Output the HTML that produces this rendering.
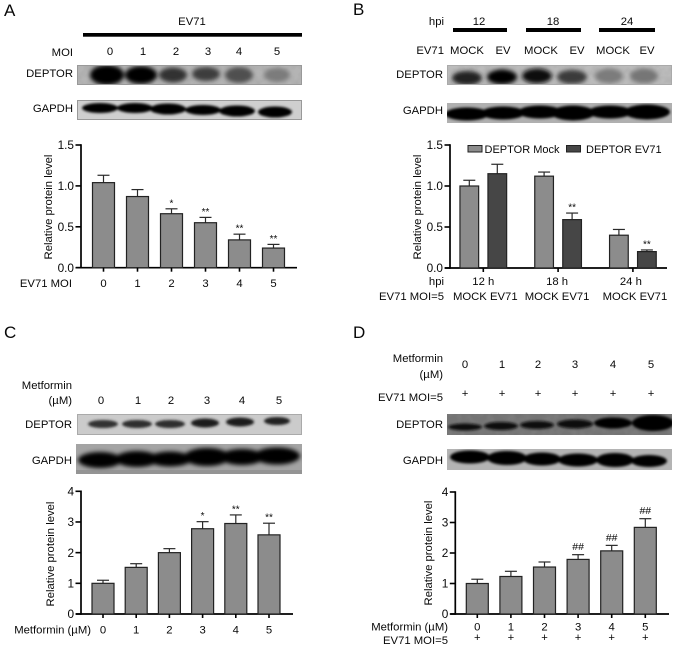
<!DOCTYPE html>
<html lang="en">
<head>
<meta charset="utf-8">
<title>DEPTOR western blots and quantification</title>
<style>
html,body{margin:0;padding:0;background:#fff;}
#figure{display:block;width:677px;height:649px;}
text{font-family:"Liberation Sans",Arial,sans-serif;font-size:11.3px;fill:#080808;}
.r{text-anchor:end;}
.m{text-anchor:middle;}
.p{font-size:17px;}
</style>
</head>
<body>
<svg id="figure" xmlns="http://www.w3.org/2000/svg" width="677" height="649" viewBox="0 0 677 649">
<defs>
<filter id="soft" x="-30%" y="-60%" width="160%" height="220%"><feGaussianBlur stdDeviation="1.3"/></filter>
<filter id="softer" x="-30%" y="-80%" width="160%" height="260%"><feGaussianBlur stdDeviation="2.2"/></filter>
<filter id="grain" x="0" y="0" width="100%" height="100%"><feTurbulence type="fractalNoise" baseFrequency="0.13" numOctaves="2" seed="7"/><feColorMatrix values="0 0 0 0 0.3  0 0 0 0 0.3  0 0 0 0 0.3  1.6 0 0 0 -0.55"/></filter>
</defs>

<!-- Panel A blots -->
<text class="p" x="4" y="16">A</text>
<text class="m" x="192" y="25">EV71</text>
<rect x="83" y="33" width="219" height="3.7" fill="#000"/>
<text class="r" x="73" y="56">MOI</text>
<text class="m" x="110" y="55">0</text>
<text class="m" x="143" y="55">1</text>
<text class="m" x="176" y="55">2</text>
<text class="m" x="208" y="55">3</text>
<text class="m" x="239" y="55">4</text>
<text class="m" x="277" y="55">5</text>
<text class="r" x="73" y="77">DEPTOR</text>
<text class="r" x="73" y="112">GAPDH</text>
<svg x="77" y="65" width="225" height="20" viewBox="77 65 225 20">
<rect x="77" y="65" width="225" height="20" fill="#b4b4b4"/>
<rect x="77" y="65" width="225" height="20" filter="url(#grain)" opacity=".35"/>
<g filter="url(#softer)">
<ellipse cx="107" cy="75" rx="17" ry="10" fill="#000"/>
<ellipse cx="141" cy="75" rx="16" ry="9" fill="#000"/>
<ellipse cx="173" cy="75" rx="14" ry="7.5" fill="#303030"/>
<ellipse cx="206" cy="74" rx="14" ry="7" fill="#3c3c3c"/>
<ellipse cx="239" cy="75" rx="14" ry="8" fill="#505050"/>
<ellipse cx="277" cy="75" rx="13" ry="7" fill="#7c7c7c"/>
</g>
<rect x="77.5" y="65.5" width="224" height="19" fill="none" stroke="#999"/>
</svg>
<svg x="77" y="100" width="225" height="20" viewBox="77 100 225 20">
<rect x="77" y="100" width="225" height="20" fill="#cfcfcf"/>
<g filter="url(#soft)">
<ellipse cx="100" cy="108" rx="18" ry="5" fill="#000"/>
<ellipse cx="135" cy="108" rx="18" ry="5" fill="#000"/>
<ellipse cx="168" cy="109" rx="18" ry="5.5" fill="#000"/>
<ellipse cx="203" cy="110" rx="18" ry="5" fill="#000"/>
<ellipse cx="237" cy="111" rx="18" ry="5.5" fill="#000"/>
<ellipse cx="275" cy="112" rx="17" ry="5.5" fill="#000"/>
</g>
<rect x="77.5" y="100.5" width="224" height="19" fill="none" stroke="#999"/>
</svg>

<!-- Panel B blots -->
<text class="p" x="353" y="15">B</text>
<text class="r" x="444" y="25">hpi</text>
<text class="m" x="479" y="25">12</text>
<text class="m" x="553" y="25">18</text>
<text class="m" x="627" y="25">24</text>
<rect x="453" y="28" width="54" height="4" fill="#000"/>
<rect x="526" y="28" width="55" height="4" fill="#000"/>
<rect x="599" y="28" width="56" height="4" fill="#000"/>
<text class="r" x="444" y="54">EV71</text>
<text class="m" x="467" y="54">MOCK</text>
<text class="m" x="503" y="54">EV</text>
<text class="m" x="541" y="54">MOCK</text>
<text class="m" x="577" y="54">EV</text>
<text class="m" x="613" y="54">MOCK</text>
<text class="m" x="647" y="54">EV</text>
<text class="r" x="443" y="78">DEPTOR</text>
<text class="r" x="443" y="114">GAPDH</text>
<svg x="447" y="65" width="225" height="20" viewBox="447 65 225 20">
<rect x="447" y="65" width="225" height="20" fill="#bcbcbc"/>
<rect x="447" y="65" width="225" height="20" filter="url(#grain)" opacity=".35"/>
<g filter="url(#softer)">
<ellipse cx="467" cy="78" rx="15" ry="7" fill="#202020"/>
<ellipse cx="502" cy="77" rx="15" ry="7.5" fill="#060606"/>
<ellipse cx="537" cy="76" rx="15" ry="7.5" fill="#111"/>
<ellipse cx="572" cy="77" rx="15" ry="7" fill="#3a3a3a"/>
<ellipse cx="609" cy="76" rx="14" ry="7.5" fill="#7c7c7c"/>
<ellipse cx="644" cy="76" rx="14" ry="7.5" fill="#767676"/>
</g>
<rect x="447.5" y="65.5" width="224" height="19" fill="none" stroke="#aaa"/>
</svg>
<svg x="447" y="103" width="225" height="20" viewBox="447 103 225 20">
<rect x="447" y="103" width="225" height="20" fill="#b0b0b0"/>
<g filter="url(#soft)">
<ellipse cx="467" cy="114" rx="22" ry="6.5" fill="#000"/>
<ellipse cx="503" cy="113" rx="22" ry="6.5" fill="#000"/>
<ellipse cx="540" cy="112" rx="22" ry="6.5" fill="#000"/>
<ellipse cx="573" cy="113" rx="22" ry="7.5" fill="#000"/>
<ellipse cx="610" cy="112" rx="22" ry="6.5" fill="#000"/>
<ellipse cx="647" cy="112" rx="23" ry="7.5" fill="#000"/>
</g>
</svg>

<!-- Panel C blots -->
<text class="p" x="4" y="338">C</text>
<text class="r" x="72" y="389">Metformin</text>
<text class="r" x="72" y="404">(µM)</text>
<text class="m" x="101" y="404">0</text>
<text class="m" x="138" y="404">1</text>
<text class="m" x="171" y="404">2</text>
<text class="m" x="207" y="404">3</text>
<text class="m" x="242" y="404">4</text>
<text class="m" x="279" y="404">5</text>
<text class="r" x="72" y="428">DEPTOR</text>
<text class="r" x="72" y="464">GAPDH</text>
<svg x="77" y="414" width="225" height="21" viewBox="77 414 225 21">
<rect x="77" y="414" width="225" height="21" fill="#cbcbcb"/>
<g filter="url(#soft)">
<ellipse cx="103" cy="424" rx="15" ry="4" fill="#333"/>
<ellipse cx="137" cy="424" rx="15" ry="4" fill="#2e2e2e"/>
<ellipse cx="170" cy="424" rx="15" ry="4" fill="#2e2e2e"/>
<ellipse cx="205" cy="423" rx="14" ry="4.5" fill="#1c1c1c"/>
<ellipse cx="240" cy="422" rx="14" ry="4.5" fill="#1a1a1a"/>
<ellipse cx="277" cy="421" rx="13" ry="4" fill="#222"/>
</g>
<rect x="77.5" y="414.5" width="224" height="20" fill="none" stroke="#aaa"/>
</svg>
<svg x="76" y="444" width="226" height="30" viewBox="76 444 226 30">
<rect x="76" y="444" width="226" height="30" fill="#a4a4a4"/>
<g filter="url(#softer)">
<ellipse cx="100" cy="460" rx="22" ry="8" fill="#000"/>
<ellipse cx="137" cy="459" rx="22" ry="8" fill="#000"/>
<ellipse cx="170" cy="459" rx="22" ry="7.5" fill="#000"/>
<ellipse cx="207" cy="457" rx="23" ry="9" fill="#000"/>
<ellipse cx="242" cy="457" rx="22" ry="8" fill="#000"/>
<ellipse cx="277" cy="456" rx="23" ry="8.5" fill="#000"/>
</g>
<rect x="76" y="470" width="226" height="4" fill="#8a8a8a" opacity=".6"/>
</svg>

<!-- Panel D blots -->
<text class="p" x="353" y="338">D</text>
<text class="r" x="443" y="362">Metformin</text>
<text class="r" x="443" y="378">(µM)</text>
<text class="m" x="465" y="368">0</text>
<text class="m" x="502" y="368">1</text>
<text class="m" x="538" y="368">2</text>
<text class="m" x="575" y="368">3</text>
<text class="m" x="613" y="368">4</text>
<text class="m" x="651" y="368">5</text>
<text class="r" x="443" y="401">EV71 MOI=5</text>
<text class="m" x="465" y="397">+</text>
<text class="m" x="502" y="397">+</text>
<text class="m" x="538" y="397">+</text>
<text class="m" x="575" y="397">+</text>
<text class="m" x="613" y="397">+</text>
<text class="m" x="651" y="397">+</text>
<text class="r" x="443" y="428">DEPTOR</text>
<text class="r" x="443" y="464">GAPDH</text>
<svg x="447" y="414" width="225" height="21" viewBox="447 414 225 21">
<rect x="447" y="414" width="225" height="21" fill="#747474"/>
<rect x="447" y="414" width="225" height="21" filter="url(#grain)" opacity=".3"/>
<g filter="url(#soft)">
<ellipse cx="465" cy="427" rx="17" ry="3.5" fill="#111"/>
<ellipse cx="501" cy="426" rx="17" ry="4" fill="#111"/>
<ellipse cx="537" cy="425" rx="17" ry="4" fill="#101010"/>
<ellipse cx="575" cy="424" rx="18" ry="4.5" fill="#080808"/>
<ellipse cx="613" cy="423" rx="19" ry="5.5" fill="#020202"/>
<ellipse cx="653" cy="423" rx="21" ry="8" fill="#000"/>
</g>
</svg>
<svg x="447" y="449" width="225" height="21" viewBox="447 449 225 21">
<rect x="447" y="449" width="225" height="21" fill="#b4b4b4"/>
<g filter="url(#soft)">
<ellipse cx="470" cy="457" rx="20" ry="6.5" fill="#000"/>
<ellipse cx="507" cy="458" rx="20" ry="7" fill="#000"/>
<ellipse cx="542" cy="459" rx="19" ry="6.5" fill="#000"/>
<ellipse cx="578" cy="460" rx="20" ry="6.5" fill="#000"/>
<ellipse cx="615" cy="460" rx="19" ry="7" fill="#000"/>
<ellipse cx="649" cy="461" rx="18" ry="6" fill="#000"/>
</g>
</svg>

<g id="charts"></g>
</svg>

<script>
// Panel A data
const aCategories = ['0', '1', '2', '3', '4', '5'];
const aValues = [1.04, 0.87, 0.66, 0.55, 0.34, 0.24];
const aErrors = [0.09, 0.085, 0.06, 0.065, 0.07, 0.045];
const aMarks = ['', '', '*', '**', '**', '**'];
const aTicks = ['0.0', '0.5', '1.0', '1.5'];

// Panel B data
const bGroups = ['12 h', '18 h', '24 h'];
const bPairLabels = ['MOCK EV71', 'MOCK EV71', 'MOCK EV71'];
const bMockValues = [1.0, 1.12, 0.4];
const bMockErrors = [0.07, 0.05, 0.07];
const bEvValues = [1.15, 0.59, 0.2];
const bEvErrors = [0.115, 0.08, 0.02];
const bEvMarks = ['', '**', '**'];
const bTicks = ['0.0', '0.5', '1.0', '1.5'];

// Panel C data
const cCategories = ['0', '1', '2', '3', '4', '5'];
const cValues = [1.0, 1.52, 2.0, 2.78, 2.95, 2.58];
const cErrors = [0.1, 0.12, 0.13, 0.23, 0.28, 0.38];
const cMarks = ['', '', '', '*', '**', '**'];
const cTicks = ['0', '1', '2', '3', '4'];

// Panel D data
const dCategories = ['0', '1', '2', '3', '4', '5'];
const dValues = [1.0, 1.23, 1.54, 1.79, 2.07, 2.84];
const dErrors = [0.14, 0.17, 0.165, 0.155, 0.18, 0.285];
const dMarks = ['', '', '', '##', '##', '##'];
const dTicks = ['0', '1', '2', '3', '4'];

const NS = 'http://www.w3.org/2000/svg';
const root = document.getElementById('charts');

function add(parent, tag, attrs, name) {
  const el = document.createElementNS(NS, tag);
  for (const k in attrs) el.setAttribute(k, attrs[k]);
  
  
  parent.appendChild(el);
  return el;
}

function label(parent, str, x, y, anchor, name, size) {
  const attrs = { x: x, y: y, 'text-anchor': anchor };
  if (size) attrs.style = 'font-size:' + size + 'px';
  const el = add(parent, 'text', attrs, name);
  el.textContent = str;
  return el;
}

function makeAxes(g, opts) {
  const yScale = v => opts.y0 - (v / opts.yMax) * (opts.y0 - opts.yTop);
  add(g, 'line', { x1: opts.x0, x2: opts.x0, y1: opts.yTop - 0.8, y2: opts.y0 + 0.8, stroke: '#000', 'stroke-width': 1.7 }, 'y-axis');
  add(g, 'line', { x1: opts.x0 - 5, x2: opts.xEnd, y1: opts.y0, y2: opts.y0, stroke: '#000', 'stroke-width': 1.7 }, 'x-axis');
  opts.ticks.forEach(t => {
    const y = yScale(parseFloat(t));
    add(g, 'line', { x1: opts.x0 - 5.5, x2: opts.x0, y1: y, y2: y, stroke: '#000', 'stroke-width': 1.6 }, 'y-tick');
    label(g, t, opts.x0 - 7, y + 4.2, 'end', 'y-tick-label', 11.8);
  });
  const title = label(g, 'Relative protein level', 0, 0, 'middle', 'y-axis-title');
  title.setAttribute('transform', 'translate(' + opts.titleX + ',' + opts.titleY + ') rotate(-90)');
  return yScale;
}

function drawBar(g, yScale, y0, cx, w, value, err, fill, name) {
  const top = yScale(value);
  const errTop = yScale(value + err);
  add(g, 'line', { x1: cx, x2: cx, y1: errTop, y2: top, stroke: '#2a2a2a', 'stroke-width': 1.2 }, name + '-error-stem');
  add(g, 'line', { x1: cx - 6, x2: cx + 6, y1: errTop, y2: errTop, stroke: '#2a2a2a', 'stroke-width': 1.2 }, name + '-error-cap');
  add(g, 'rect', { x: cx - w / 2, y: top, width: w, height: y0 - top, fill: fill, stroke: '#222', 'stroke-width': 1.2 }, name);
  return errTop;
}

function drawMark(g, mark, cx, errTop, name) {
  if (!mark) return;
  if (mark.charAt(0) === '#') label(g, mark, cx, errTop - 4.5, 'middle', name, 10.5);
  else label(g, mark, cx, errTop - 2.5, 'middle', name, 10);
}

function singleChart(name, cats, vals, errs, marks, ticks, o) {
  const g = add(root, 'g', {}, name);
  const yScale = makeAxes(g, Object.assign({ ticks: ticks }, o));
  const xScale = i => o.first + o.step * i;
  cats.forEach((c, i) => {
    const cx = xScale(i);
    const errTop = drawBar(g, yScale, o.y0, cx, 22, vals[i], errs[i], '#8c8c8c', 'bar-' + c);
    drawMark(g, marks[i], cx, errTop, 'significance-' + c);
    add(g, 'line', { x1: cx, x2: cx, y1: o.y0, y2: o.y0 + 4, stroke: '#000', 'stroke-width': 1.6 }, 'x-tick');
    label(g, c, cx, o.labelY, 'middle', 'x-tick-label');
  });
  return g;
}

// Panel A
const gA = singleChart('chart-a', aCategories, aValues, aErrors, aMarks, aTicks,
  { x0: 81, xEnd: 297, y0: 267.7, yTop: 145, yMax: 1.5, first: 103.5, step: 34, labelY: 287, titleX: 52, titleY: 207 });
label(gA, 'EV71 MOI', 72, 287, 'end', 'x-axis-row-label');

// Panel B
const gB = add(root, 'g', {}, 'chart-b');
const yB = makeAxes(gB, { x0: 450, xEnd: 667, y0: 268, yTop: 145, yMax: 1.5, ticks: bTicks, titleX: 421, titleY: 207 });
const groupX = i => 483.3 + 74.8 * i;
bGroups.forEach((grp, i) => {
  const cx = groupX(i);
  drawBar(gB, yB, 268, cx - 14, 18.7, bMockValues[i], bMockErrors[i], '#8c8c8c', 'bar-mock-' + grp);
  const top = drawBar(gB, yB, 268, cx + 14, 18.7, bEvValues[i], bEvErrors[i], '#464646', 'bar-ev71-' + grp);
  drawMark(gB, bEvMarks[i], cx + 14, top, 'significance-' + grp);
  add(gB, 'line', { x1: cx, x2: cx, y1: 268, y2: 272, stroke: '#000', 'stroke-width': 1.6 }, 'x-tick');
  label(gB, grp, cx - i, 285, 'middle', 'group-label');
  label(gB, bPairLabels[i], cx + (i === 1 ? -1 : 2), 300, 'middle', 'pair-label');
});
label(gB, 'hpi', 444, 285, 'end', 'hpi-row-label');
label(gB, 'EV71 MOI=5', 444, 300, 'end', 'moi-row-label');
add(gB, 'rect', { x: 468, y: 145.5, width: 14, height: 6.5, fill: '#8c8c8c', stroke: '#222', 'stroke-width': 1 }, 'legend-swatch-mock');
label(gB, 'DEPTOR Mock', 484.5, 153, 'start', 'legend-entry-mock', 11);
add(gB, 'rect', { x: 566.5, y: 145.5, width: 14, height: 6.5, fill: '#464646', stroke: '#222', 'stroke-width': 1 }, 'legend-swatch-ev71');
label(gB, 'DEPTOR EV71', 586, 153, 'start', 'legend-entry-ev71', 11);

// Panel C
const gC = singleChart('chart-c', cCategories, cValues, cErrors, cMarks, cTicks,
  { x0: 81, xEnd: 293, y0: 614, yTop: 491.3, yMax: 4, first: 103, step: 33.2, labelY: 633.5, titleX: 54, titleY: 554 });
label(gC, 'Metformin (µM)', 91, 633.5, 'end', 'x-axis-row-label');

// Panel D
const gD = singleChart('chart-d', dCategories, dValues, dErrors, dMarks, dTicks,
  { x0: 455.3, xEnd: 669, y0: 614, yTop: 492, yMax: 4, first: 477.3, step: 33.6, labelY: 630.5, titleX: 432, titleY: 553 });
label(gD, 'Metformin (µM)', 448, 630.5, 'end', 'x-axis-row-label');
label(gD, 'EV71 MOI=5', 448, 644, 'end', 'moi-row-label');
dCategories.forEach((c, i) => {
  label(gD, '+', 477.3 + 33.6 * i, 641, 'middle', 'plus-marker');
});
</script>
</body>
</html>
